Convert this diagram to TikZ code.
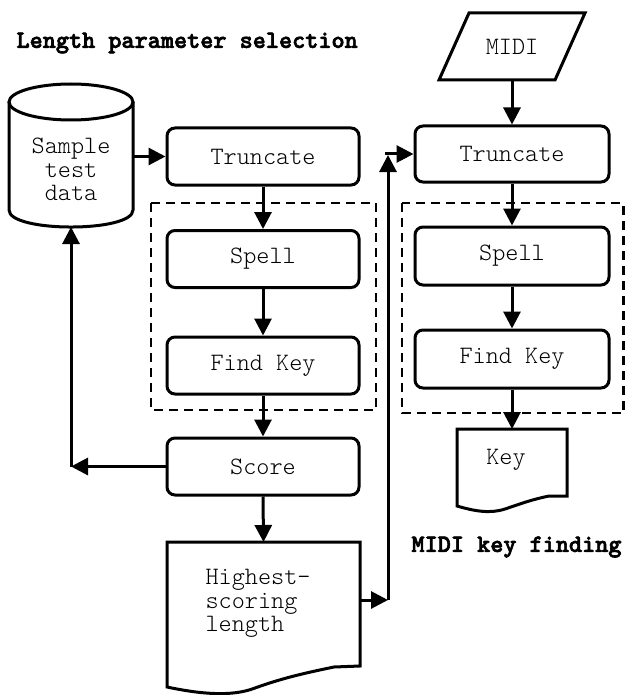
\documentclass[tikz,border=0pt]{standalone}
\usepackage{fontspec}
\newfontfamily\bodyfont{lmmonolt10-regular.otf}
\newfontfamily\ttlfont[FakeBold=2.5]{lmmonolt10-bold.otf}
\usetikzlibrary{arrows.meta}
\begin{document}
\begin{tikzpicture}[x=1pt,y=-1pt,
  font=\bodyfont\fontsize{25}{23.5}\selectfont,
  line width=3pt,
  box/.style={draw, rounded corners=8pt, minimum width=192pt, minimum height=57pt, inner sep=0pt},
  ghost/.style={inner sep=0pt, outer sep=0pt},
  arr/.style={-{Triangle[length=17pt,width=17pt]}},
  dbox/.style={draw, dash pattern=on 9pt off 6pt, line width=2.5pt},
  ttl/.style={font=\ttlfont\fontsize{25}{24}\selectfont, anchor=west, inner sep=0pt},
  txt/.style={inner sep=0pt, align=center},
]
\fill[white] (0,0) rectangle (625,695);
\useasboundingbox (0,0) rectangle (625,695);

% titles
\node[ttl] (t1) at (15,43) {Length parameter selection};
\node[ttl] (t2) at (410,547) {MIDI key finding};

% dashed groups
\draw[dbox] (151,203) rectangle (376,410);
\draw[dbox] (402,203) rectangle (623.5,413);

% cylinder
\draw (71,102) ellipse [x radius=62pt, y radius=18pt];
\draw (9,102) -- (9,210) .. controls (9,232.7) and (133,232.7) .. (133,210) -- (133,102);
\node[ghost, minimum width=124pt, minimum height=143pt] (cyl) at (71,155.5) {};
\node[txt] (cyltext) at (71,169.5) {Sample\\test\\data};

% left column
\node[box] (trunc1) at (263,156.5) {Truncate};
\node[box] (spell1) at (263,259) {Spell};
\node[box] (fk1) at (263,365.5) {Find Key};
\node[box] (score1) at (263,466.5) {Score};

% highest-scoring document
\draw (167,542) -- (360,542) -- (360,666) -- (334,667)
  .. controls (300,674) and (280,679) .. (255,688)
  .. controls (232,697) and (200,694) .. (167,687) -- cycle;
\node[ghost, minimum width=193pt, minimum height=116pt] (doc1) at (263.5,600) {};
\node[inner sep=0pt, align=left, anchor=west] (doc1text) at (204,603.5) {Highest-\\scoring\\length};

% right column
\draw (439,80) -- (469,13) -- (585,13) -- (555,80) -- cycle;
\node[ghost, minimum width=116pt, minimum height=67pt] (midi) at (512,46.5) {MIDI};
\node[box, minimum width=194pt, minimum height=56pt] (trunc2) at (512,154) {Truncate};
\node[box, minimum width=194pt, minimum height=58pt] (spell2) at (512,256) {Spell};
\node[box, minimum width=194pt, minimum height=58pt] (fk2) at (512,359) {Find Key};

% key document
\draw (457,429) -- (567,429) -- (567,496) -- (549,496)
  .. controls (530,500) and (520,504) .. (505,509)
  .. controls (490,514) and (474,511) .. (457,506) -- cycle;
\node[ghost, minimum width=110pt, minimum height=67pt] (keydoc) at (512,462.5) {};
\node[txt] (keytext) at (506,460) {Key};

% connectors
\draw[arr] (cyl.east |- trunc1.west) -- (trunc1.west);
\draw[arr] (trunc1.south) -- (spell1.north);
\draw[arr] (spell1.south) -- (fk1.north);
\draw[arr] (fk1.south) -- (score1.north);
\draw[arr] (score1.south) -- (doc1.north);
\coordinate (turn) at (cyl.south |- score1.west);
\draw[arr] (score1.west) -- (turn);
\draw[arr] (turn) -- (cyl.south);

\coordinate (j1) at (388,600);
\coordinate (j2) at (388,155);
\draw[arr] (doc1.east) -- (j1);
\draw[arr] (j1) -- (j2);
\draw[arr] ([xshift=-3pt]j2 |- trunc2.west) -- (trunc2.west);

\draw[arr] (midi.south) -- (trunc2.north);
\draw[arr] (trunc2.south) -- (spell2.north);
\draw[arr] (spell2.south) -- (fk2.north);
\draw[arr] (fk2.south) -- (keydoc.north);
\end{tikzpicture}
\end{document}
